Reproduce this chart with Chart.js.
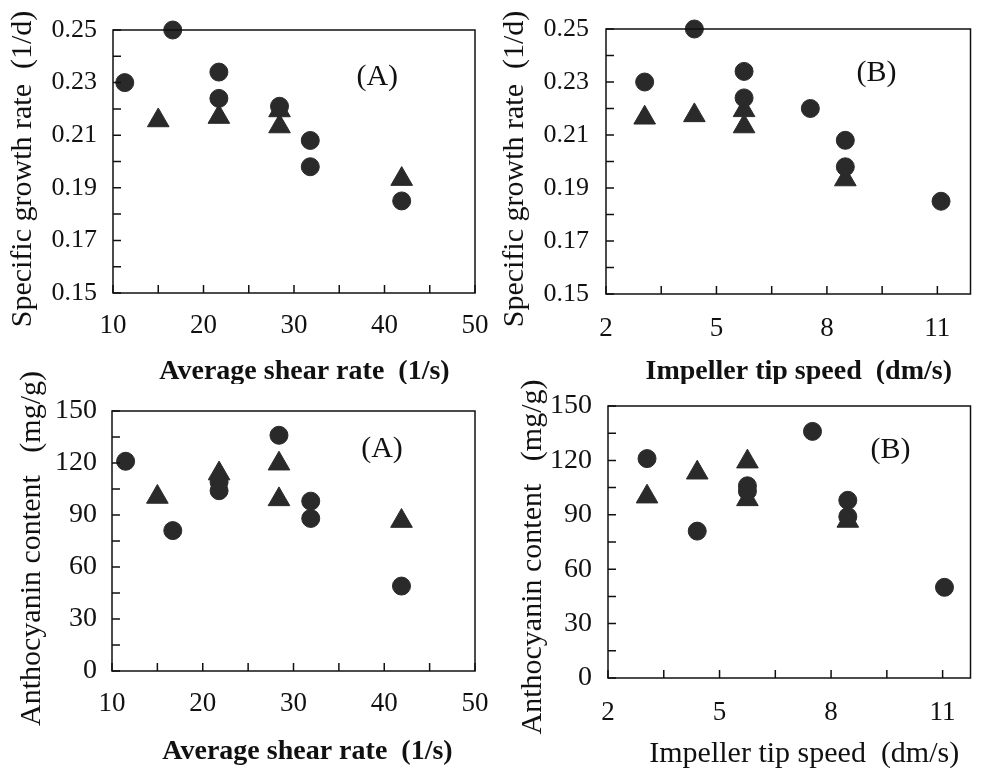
<!DOCTYPE html>
<html>
<head>
<meta charset="utf-8">
<script src="https://cdn.jsdelivr.net/npm/chart.js@4.4.1/dist/chart.umd.min.js"></script>
<style>
    html, body { margin: 0; padding: 0; background: #fff; }
    #page { position: relative; width: 984px; height: 768px; overflow: hidden; }
    canvas { position: absolute; }
</style>
</head>
<body>
<div id="page">
    <canvas id="growthShear" width="492" height="384" style="left:0;top:0"></canvas>
    <canvas id="growthTip" width="492" height="384" style="left:492px;top:0"></canvas>
    <canvas id="anthoShear" width="492" height="424" style="left:0;top:344px"></canvas>
    <canvas id="anthoTip" width="492" height="424" style="left:492px;top:344px"></canvas>
</div>
<script>
// ---- data ----

// axis ticks (every tick gets a mark, only some get a label)
const shearTicks = [10, 15, 20, 25, 30, 35, 40, 45, 50];
const shearTickLabels = ['10', '', '20', '', '30', '', '40', '', '50'];
const tipTicks = [2, 3.5, 5, 6.5, 8, 9.5, 11];
const tipTickLabels = ['2', '', '5', '', '8', '', '11'];
const growthTicks = [0.15, 0.16, 0.17, 0.18, 0.19, 0.20, 0.21, 0.22, 0.23, 0.24, 0.25];
const growthTickLabels = ['0.15', '', '0.17', '', '0.19', '', '0.21', '', '0.23', '', '0.25'];
const anthoTicks = [0, 15, 30, 45, 60, 75, 90, 105, 120, 135, 150];
const anthoTickLabels = ['0', '', '30', '', '60', '', '90', '', '120', '', '150'];

// (A) growth rate vs average shear rate
const growthShearCircleX = [11.3, 16.6, 21.7, 21.7, 28.4, 31.8, 31.8, 41.9];
const growthShearCircleY = [0.230, 0.250, 0.234, 0.224, 0.221, 0.208, 0.198, 0.185];
const growthShearTriX = [15.0, 21.7, 28.4, 28.4, 41.9];
const growthShearTriY = [0.2156, 0.2169, 0.2194, 0.2133, 0.1933];

// (B) growth rate vs impeller tip speed
const growthTipCircleX = [3.05, 4.4, 5.75, 5.75, 7.55, 8.5, 8.5, 11.1];
const growthTipCircleY = [0.230, 0.250, 0.234, 0.224, 0.220, 0.208, 0.198, 0.185];
const growthTipTriX = [3.05, 4.4, 5.75, 5.75, 8.5];
const growthTipTriY = [0.2165, 0.2174, 0.2193, 0.2132, 0.1932];

// (A) anthocyanin vs average shear rate
const anthoShearCircleX = [11.5, 16.7, 21.8, 21.8, 28.4, 31.9, 31.9, 41.9];
const anthoShearCircleY = [121, 81, 109, 104, 136, 98, 88, 49];
const anthoShearTriX = [15.0, 21.8, 28.4, 28.4, 41.9];
const anthoShearTriY = [100.4, 113.9, 119.6, 99, 86.5];

// (B) anthocyanin vs impeller tip speed
const anthoTipCircleX = [3.05, 4.4, 5.75, 5.75, 7.5, 8.45, 8.45, 11.05];
const anthoTipCircleY = [121, 81, 106, 103, 136, 98, 89, 50];
const anthoTipTriX = [3.05, 4.4, 5.75, 5.75, 8.45];
const anthoTipTriY = [100, 113.2, 119.3, 98.5, 86.6];

const SERIF = "'Liberation Serif', 'Times New Roman', serif";
const INK = '#111';
const MARK = '#2a2a2a';

// Frame round the plot, inward tick marks and the (A)/(B) tag
const framePlugin = {
    id: 'frame',
    afterDatasetsDraw(chart, args, opts) {
        const ctx = chart.ctx;
        const a = chart.chartArea;
        const xs = chart.scales.x;
        const ys = chart.scales.y;
        ctx.save();
        ctx.strokeStyle = INK;
        ctx.lineWidth = 1.5;
        ctx.strokeRect(a.left, a.top, a.right - a.left, a.bottom - a.top);
        ctx.beginPath();
        xs.ticks.forEach(t => {
            const px = xs.getPixelForValue(t.value);
            ctx.moveTo(px, a.bottom);
            ctx.lineTo(px, a.bottom - 8);
        });
        ys.ticks.forEach(t => {
            const py = ys.getPixelForValue(t.value);
            ctx.moveTo(a.left, py);
            ctx.lineTo(a.left + 8, py);
        });
        ctx.stroke();

        ctx.fillStyle = INK;
        ctx.font = '30px ' + SERIF;
        ctx.textAlign = 'center';
        ctx.textBaseline = 'middle';
        ctx.fillText(opts.tag, xs.getPixelForValue(opts.tagX), ys.getPixelForValue(opts.tagY));
        ctx.restore();
    }
};

function toPoints(xs, ys) {
    return xs.map((x, i) => ({x: x, y: ys[i]}));
}

// Builds one panel; p holds the data and the layout numbers for it
function buildPanel(canvasId, p) {
    return new Chart(document.getElementById(canvasId), {
        type: 'scatter',
        data: {
            datasets: [
                {
                    data: toPoints(p.circleX, p.circleY),
                    pointStyle: 'circle',
                    pointRadius: 9,
                    backgroundColor: MARK,
                    borderColor: MARK,
                    borderWidth: 1,
                    clip: false,
                },
                {
                    data: toPoints(p.triX, p.triY),
                    pointStyle: 'triangle',
                    pointRadius: 12.5,
                    backgroundColor: MARK,
                    borderColor: MARK,
                    borderWidth: 1,
                    clip: false,
                }
            ]
        },
        plugins: [framePlugin],
        options: {
            responsive: false,
            animation: false,
            layout: {
                padding: {left: 0, top: p.padTop, right: p.padRight, bottom: 0}
            },
            plugins: {
                legend: {display: false},
                tooltip: {enabled: false},
                frame: {tag: p.tag, tagX: p.tagX, tagY: p.tagY},
            },
            scales: {
                x: {
                    type: 'linear',
                    min: p.xMin,
                    max: p.xMax,
                    grid: {display: false, drawTicks: false},
                    border: {display: false},
                    afterBuildTicks: scale => {
                        scale.ticks = p.xTicks.map(v => ({value: v}));
                    },
                    afterFit: scale => {
                        // fixed box; labels may hang over the plot edges
                        scale.height = p.xHeight;
                        scale.paddingLeft = 0;
                        scale.paddingRight = 0;
                    },
                    ticks: {
                        autoSkip: false,
                        maxRotation: 0,
                        padding: p.xTickPad,
                        color: INK,
                        font: {family: SERIF, size: 27},
                        callback: (value, index) => p.xTickLabels[index],
                    },
                    title: {
                        display: true,
                        text: p.xTitle,
                        color: INK,
                        font: {family: SERIF, size: p.xTitleSize, weight: p.xTitleBold ? 'bold' : 'normal', lineHeight: 1},
                        padding: {top: 0, bottom: p.xTitlePad},
                    }
                },
                y: {
                    type: 'linear',
                    min: p.yMin,
                    max: p.yMax,
                    grid: {display: false, drawTicks: false},
                    border: {display: false},
                    afterBuildTicks: scale => {
                        scale.ticks = p.yTicks.map(v => ({value: v}));
                    },
                    afterFit: scale => {
                        scale.width = p.yWidth;
                        scale.paddingTop = 0;
                        scale.paddingBottom = 0;
                    },
                    ticks: {
                        autoSkip: false,
                        padding: p.yTickPad,
                        color: INK,
                        font: {family: SERIF, size: p.yTickSize},
                        callback: (value, index) => p.yTickLabels[index],
                    },
                    title: {
                        display: true,
                        text: p.yTitle,
                        color: INK,
                        font: {family: SERIF, size: p.yTitleSize, lineHeight: 1},
                        padding: {top: p.yTitlePad, bottom: 0},
                    }
                }
            }
        }
    });
}

buildPanel('growthShear', {
    circleX: growthShearCircleX, circleY: growthShearCircleY,
    triX: growthShearTriX, triY: growthShearTriY,
    xMin: 10, xMax: 50, xTicks: shearTicks, xTickLabels: shearTickLabels,
    yMin: 0.15, yMax: 0.25, yTicks: growthTicks, yTickLabels: growthTickLabels,
    xTitle: '   Average shear rate  (1/s)', xTitleBold: true, xTitleSize: 28, xTitlePad: -2,
    yTitle: 'Specific growth rate  (1/d)  ', yTitleSize: 30, yTitlePad: 8,
    yTickSize: 26, yTickPad: 16, xTickPad: 17,
    padTop: 30, padRight: 17, yWidth: 113, xHeight: 91,
    tag: '(A)', tagX: 39.2, tagY: 0.232,
});

buildPanel('growthTip', {
    circleX: growthTipCircleX, circleY: growthTipCircleY,
    triX: growthTipTriX, triY: growthTipTriY,
    xMin: 2, xMax: 11.9, xTicks: tipTicks, xTickLabels: tipTickLabels,
    yMin: 0.15, yMax: 0.25, yTicks: growthTicks, yTickLabels: growthTickLabels,
    xTitle: '   Impeller tip speed  (dm/s)', xTitleBold: true, xTitleSize: 28, xTitlePad: -2,
    yTitle: 'Specific growth rate  (1/d)  ', yTitleSize: 30, yTitlePad: 8,
    yTickSize: 26, yTickPad: 17, xTickPad: 19,
    padTop: 29, padRight: 8, yWidth: 114, xHeight: 90,
    tag: '(B)', tagX: 9.35, tagY: 0.2334,
});

buildPanel('anthoShear', {
    circleX: anthoShearCircleX, circleY: anthoShearCircleY,
    triX: anthoShearTriX, triY: anthoShearTriY,
    xMin: 10, xMax: 50, xTicks: shearTicks, xTickLabels: shearTickLabels,
    yMin: 0, yMax: 150, yTicks: anthoTicks, yTickLabels: anthoTickLabels,
    xTitle: '    Average shear rate  (1/s)', xTitleBold: true, xTitleSize: 28, xTitlePad: 2,
    yTitle: 'Anthocyanin content   (mg/g)  ', yTitleSize: 30, yTitlePad: 17,
    yTickSize: 28, yTickPad: 15, xTickPad: 17,
    padTop: 67, padRight: 17, yWidth: 112, xHeight: 97,
    tag: '(A)', tagX: 39.75, tagY: 128,
});

buildPanel('anthoTip', {
    circleX: anthoTipCircleX, circleY: anthoTipCircleY,
    triX: anthoTipTriX, triY: anthoTipTriY,
    xMin: 2, xMax: 11.75, xTicks: tipTicks, xTickLabels: tipTickLabels,
    yMin: 0, yMax: 150, yTicks: anthoTicks, yTickLabels: anthoTickLabels,
    xTitle: '    Impeller tip speed  (dm/s)', xTitleBold: false, xTitleSize: 30, xTitlePad: -1,
    yTitle: 'Anthocyanin content   (mg/g)    ', yTitleSize: 30, yTitlePad: 26,
    yTickSize: 28, yTickPad: 16, xTickPad: 19,
    padTop: 62, padRight: 2, yWidth: 116, xHeight: 90,
    tag: '(B)', tagX: 9.6, tagY: 125.7,
});
</script>
</body>
</html>
